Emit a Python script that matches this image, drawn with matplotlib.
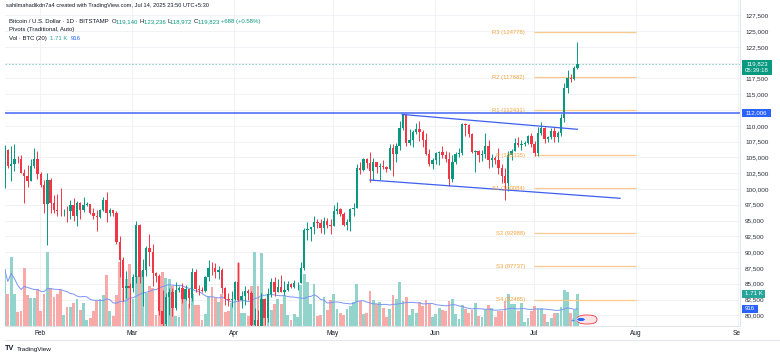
import matplotlib
matplotlib.use("Agg")
import matplotlib.pyplot as plt
import matplotlib.dates as mdates
from matplotlib.patches import Rectangle, FancyBboxPatch, Circle
from matplotlib.lines import Line2D
from matplotlib.transforms import Bbox, TransformedBbox
import pandas as pd

plt.rcParams["font.family"] = ["Liberation Sans", "DejaVu Sans"]

W, H = 780, 358  # output size in pixels

####################
#######DATA#########
####################
# BTC/USD daily candles (Bitstamp), 21 Jan - 14 Jul 2025
opens = [
    102000, 106150, 103650, 103950, 104800, 104700, 102600, 102050, 101300, 103700, 104750,  # Jan
    102400, 100650, 97700, 101400, 97800, 96600, 96550, 96500, 96500, 96450, 97400, 95800, 97850, 96600,
    97500, 97600, 96150, 95800, 95550, 96600, 98300, 96150, 96600, 96250, 91550, 88700, 84300, 84700,  # Feb
    84400, 86000, 94300, 86100, 87250, 90600, 89950, 86750, 86200, 80700, 78550, 82950, 83700, 81100,
    83950, 84350, 82600, 84100, 82700, 86900, 84200, 84050, 83850, 86100, 87500, 87450, 86900, 87200,
    84400, 82650, 82400,  # Mar
    82550, 85200, 82500, 83100, 83850, 83500, 78400, 79200, 76300, 82600, 79600, 83450, 85300, 83750,
    84550, 83650, 84050, 84950, 84450, 85050, 85150, 87500, 93450, 93700, 93950, 94700, 94650, 93800,
    94950, 94300,  # Apr
    94200, 96500, 96900, 96000, 94300, 94800, 96800, 97050, 103250, 102950, 104700, 104100, 102800,
    104200, 103500, 103700, 103500, 103150, 106450, 105600, 106800, 109650, 111650, 107300, 107800,
    109000, 109450, 108950, 107800, 105600, 103950,  # May
    104600, 105700, 105850, 105400, 104700, 101550, 104300, 105600, 105750, 110250, 110200, 108650,
    105900, 106050, 105450, 105550, 106800, 104550, 104850, 104600, 103300, 102100, 100950, 105450,
    106000, 107300, 106950, 107100, 107300, 108400,  # Jun
    107150, 105700, 108850, 109600, 107950, 108200, 109200, 108250, 108900, 111300, 115950, 117550,
    117450, 119140,  # Jul
]
highs = [
    107000, 106350, 106800, 107100, 105250, 105450, 103200, 103750, 104800, 106450, 106000,
    102750, 101450, 102500, 101750, 99000, 99200, 100150, 96900, 97300, 98300, 98500, 98100, 97950, 98800,
    97950, 97700, 97000, 96750, 96850, 98750, 99500, 96950, 96700, 96450, 92500, 89300, 87000, 85100,
    86550, 95000, 94400, 88900, 91000, 92800, 91250, 86900, 86500, 83950, 83600, 84350, 84300, 85200,
    84650, 85100, 84750, 84100, 87450, 87400, 84800, 84500, 86150, 88800, 88500, 88250, 87800, 87500,
    84550, 83500, 83900,
    85500, 88500, 83900, 84700, 84200, 83800, 81200, 80850, 83550, 82700, 84250, 85900, 86100, 85800,
    86450, 85450, 85450, 85100, 85650, 85300, 88500, 93850, 94700, 94000, 95750, 95300, 95250, 95600,
    95450, 95200,
    97450, 97900, 96950, 96300, 95200, 96950, 97750, 103900, 104350, 104950, 104950, 105800, 104950,
    104350, 104150, 104550, 103700, 107100, 107100, 107300, 110800, 111950, 111800, 109500, 109300,
    110400, 110700, 109300, 108900, 106300, 104900,
    105850, 105950, 106800, 105950, 105900, 105400, 105900, 106450, 110500, 110400, 110350, 108800,
    106200, 106200, 106100, 108900, 107750, 105550, 105200, 106500, 104000, 103400, 106050, 106300,
    108100, 108300, 107700, 107550, 108500, 108800,
    107550, 109750, 110550, 109750, 108400, 109700, 109750, 109200, 111950, 116800, 118850, 118150,
    119500, 123236,
]
lows = [
    100100, 103300, 101200, 102800, 104100, 102500, 97750, 100250, 101300, 103300, 101550,
    100300, 96200, 91200, 96150, 96200, 95700, 95650, 95700, 94700, 95300, 94900, 94100, 95300, 96300,
    97250, 96050, 95200, 93400, 95400, 96450, 94800, 95800, 95800, 91300, 86100, 82250, 82800, 78200,
    83750, 85050, 85100, 81400, 86300, 87800, 84700, 85300, 80000, 77550, 76600, 80000, 79950, 80800,
    83650, 82000, 82450, 81150, 82300, 83650, 83200, 83700, 83700, 85500, 86350, 85900, 85800, 83600,
    81650, 81550, 81300,
    82450, 82300, 81200, 81650, 82400, 77150, 74450, 76200, 74600, 78450, 78950, 82850, 83050, 83700,
    83650, 83150, 83800, 84300, 84250, 83950, 85150, 87100, 91950, 91700, 92850, 93900, 93050, 92850,
    93800, 92900,
    94100, 96050, 95800, 94150, 93500, 93400, 95800, 96950, 102400, 102850, 103400, 101100, 101450,
    102600, 101450, 103100, 102650, 103050, 102000, 104200, 106100, 109300, 106800, 106900, 106600,
    108650, 107600, 106700, 105350, 103700, 103100,
    103900, 103750, 104900, 104200, 100400, 101150, 103950, 105100, 105350, 108350, 108250, 105700,
    102700, 104300, 104500, 104950, 103400, 103550, 103900, 102350, 101000, 98200, 99650, 104650,
    105950, 106600, 106150, 106850, 107200, 106700,
    105300, 105200, 108600, 107300, 107500, 107900, 107500, 107450, 108350, 110600, 115250, 116950,
    117250, 118972,
]
closes = [
    106150, 103650, 103950, 104800, 104700, 102600, 102050, 101300, 103700, 104750, 102400,
    100650, 97700, 101400, 97800, 96600, 96550, 96500, 96500, 96450, 97400, 95800, 97850, 96600, 97500,
    97600, 96150, 95800, 95550, 96600, 98300, 96150, 96600, 96250, 91550, 88700, 84300, 84700, 84400,
    86000, 94300, 86100, 87250, 90600, 89950, 86750, 86200, 80700, 78550, 82950, 83700, 81100, 83950,
    84350, 82600, 84100, 82700, 86900, 84200, 84050, 83850, 86100, 87500, 87450, 86900, 87200, 84400,
    82650, 82400, 82550,
    85200, 82500, 83100, 83850, 83500, 78400, 79200, 76300, 82600, 79600, 83450, 85300, 83750, 84550,
    83650, 84050, 84950, 84450, 85050, 85150, 87500, 93450, 93700, 93950, 94700, 94650, 93800, 94950,
    94300, 94200,
    96500, 96900, 96000, 94300, 94800, 96800, 97050, 103250, 102950, 104700, 104100, 102800, 104200,
    103500, 103700, 103500, 103150, 106450, 105600, 106800, 109650, 111650, 107300, 107800, 109000,
    109450, 108950, 107800, 105600, 103950, 104600,
    105700, 105850, 105400, 104700, 101550, 104300, 105600, 105750, 110250, 110200, 108650, 105900,
    106050, 105450, 105550, 106800, 104550, 104850, 104600, 103300, 102100, 100950, 105450, 106000,
    107300, 106950, 107100, 107300, 108400, 107150,
    105700, 108850, 109600, 107950, 108200, 109200, 108250, 108900, 111300, 115950, 117550, 117450,
    119135, 119823,
]
# volume in thousand BTC
volumes_k = [
    3.04, 1.71, 3.68, 1.71, 0.75, 0.80, 3.10, 1.66, 1.50, 1.50, 1.98,
    0.80, 1.71, 3.95, 2.03, 1.55, 1.71, 1.92, 0.59, 1.01, 1.01, 1.23, 1.44, 0.85, 1.23,
    0.32, 0.43, 0.80, 1.39, 1.44, 1.66, 2.72, 0.80, 0.53, 1.66, 3.42, 1.98, 2.51, 3.31,
    1.44, 2.67, 3.04, 2.94, 1.76, 2.14, 2.03, 0.59, 2.67, 2.88, 2.56, 2.51, 2.14, 0.53,
    0.48, 1.44, 1.55, 1.17, 1.71, 1.12, 1.12, 0.32, 0.64, 1.60, 2.08, 1.50, 1.28, 1.71,
    0.75, 0.80, 1.23,
    2.30, 3.36, 0.69, 0.69, 0.53, 2.14, 3.95, 2.14, 3.90, 1.23, 0.91, 0.85, 1.17, 1.44,
    1.17, 1.60, 0.59, 0.32, 0.64, 0.48, 2.19, 2.78, 2.35, 1.17, 2.24, 0.53, 0.59, 1.55,
    0.85, 1.39,
    1.71, 0.91, 0.69, 0.59, 0.91, 1.07, 1.28, 2.24, 1.34, 0.64, 0.69, 1.87, 1.39, 1.17,
    1.28, 0.96, 0.48, 0.91, 1.66, 1.44, 2.35, 1.34, 1.55, 0.59, 0.91, 0.69, 1.28, 1.07,
    1.39, 1.17, 0.48,
    0.64, 0.96, 0.85, 0.80, 1.34, 1.44, 0.64, 0.37, 1.12, 0.91, 0.69, 0.85, 1.23, 0.53,
    0.48, 0.91, 1.12, 0.96, 0.48, 0.80, 0.80, 1.34, 1.71, 1.17, 1.17, 0.80, 1.23, 0.21,
    0.43, 0.80,
    1.07, 0.96, 0.96, 0.64, 0.21, 0.43, 0.69, 0.69, 1.04, 1.92, 1.82, 0.69, 0.85, 1.71,
]

pivot_names = ["R3", "R2", "R1", "P", "S1", "S2", "S3", "S4"]
pivot_levels = [124778, 117682, 112431, 105335, 100084, 92988, 87737, 82485]
pivot_start, pivot_end = "2025-07-01", "2025-08-01"

hline_level = 112006

upper_trend_dates = ["2025-05-22 00:00", "2025-07-14 05:00"]
upper_trend_prices = [111800, 109450]
lower_trend_dates = ["2025-05-12 05:00", "2025-07-27 04:00"]
lower_trend_prices = [101420, 98525]

month_ticks = ["2025-02-01", "2025-03-01", "2025-04-01", "2025-05-01",
               "2025-06-01", "2025-07-01", "2025-08-01", "2025-09-01"]
month_labels = ["Feb", "Mar", "Apr", "May", "Jun", "Jul", "Aug", "Sep"]

assert len(opens) == len(highs) == len(lows) == len(closes) == len(volumes_k)

####################
#######PLOT#########
####################
UP, DOWN = "#089981", "#f23645"
VUP, VDOWN = "#92d3cb", "#f8aaa8"
TXT = "#131722"

def dnum(s):
    return mdates.date2num(pd.to_datetime(s).to_pydatetime())

# daily bars open 00:00 UTC = 05:30 in the chart's timezone
dates = pd.date_range("2025-01-21 05:30", periods=len(closes), freq="D")
x = mdates.date2num(dates.to_pydatetime())
is_up = [c >= o for o, c in zip(opens, closes)]
vol_ma = pd.Series(volumes_k).rolling(20, min_periods=1).mean()

fig = plt.figure(figsize=(W / 100, H / 100), dpi=100)
rect = [5 / W, 32 / H, 735 / W, 326 / H]
ax = fig.add_axes(rect, zorder=3)
gax = fig.add_axes(rect, zorder=1, sharex=ax, sharey=ax)
vax = fig.add_axes(rect, zorder=2, sharex=ax)
ax.patch.set_visible(False)
vax.patch.set_visible(False)

ax.set_xlim(dnum("2025-01-21") + 0.37, dnum("2025-09-01") + 0.6)
ax.set_ylim(78306, 129921)
vax.set_ylim(0, 17.41)

# grid layer
gax.grid(True, color="#eef0f4", lw=0.6)
gax.tick_params(labelleft=False, labelbottom=False, length=0)
for s in gax.spines.values():
    s.set_visible(False)

# volume + MA
vax.bar(x, volumes_k, width=0.85, color=[VUP if u else VDOWN for u in is_up], lw=0)
vax.plot(x, vol_ma, color="#7a95f6", lw=0.7)
vax.axis("off")

# candles
cols = [UP if u else DOWN for u in is_up]
ax.vlines(x, lows, highs, colors=cols, lw=0.7, zorder=2)
ax.bar(x, [max(abs(c - o), 80) for o, c in zip(opens, closes)],
       bottom=[min(o, c) for o, c in zip(opens, closes)],
       width=0.72, color=cols, lw=0, zorder=2)

# pivots
for name, lvl in zip(pivot_names, pivot_levels):
    ax.hlines(lvl, dnum(pivot_start), dnum(pivot_end), color="#fbc98c", lw=0.9, zorder=1)
    ax.annotate(f"{name} ({lvl})", xy=(dnum(pivot_start), lvl), xytext=(-6.5, 0),
                textcoords="offset points", ha="right", va="center",
                fontsize=4.2, color="#f5a23c", zorder=4)

# drawings
ax.axhline(hline_level, color="#4f72f5", lw=1.4, alpha=0.85, zorder=3)
ax.axhline(closes[-1], color=UP, lw=0.6, ls=(0, (2, 2)), alpha=0.5, zorder=1)
ax.plot(dnum(upper_trend_dates), upper_trend_prices, color="#3d5ff0", lw=0.9, zorder=3)
ax.plot(dnum(lower_trend_dates), lower_trend_prices, color="#3d5ff0", lw=0.9, zorder=3)

# axes look
ax.yaxis.tick_right()
ax.set_yticks(range(80000, 127501, 2500))
ax.set_yticklabels([f"{v:,}" for v in range(80000, 127501, 2500)])
ax.tick_params(axis="y", length=0, pad=3.6, labelsize=4.6, labelcolor="#2a2e39")
ax.set_xticks([dnum(m) for m in month_ticks])
ax.set_xticklabels(month_labels)
ax.tick_params(axis="x", length=0, pad=2.6, labelsize=4.7, labelcolor=TXT)
for side in ("top", "left"):
    ax.spines[side].set_visible(False)
for side in ("right", "bottom"):
    ax.spines[side].set_color("#e0e3eb")
    ax.spines[side].set_linewidth(0.7)
sep = ax.get_xticklabels()[-1]
sep.set_clip_box(TransformedBbox(Bbox([[0, 0], [740 / W, 1]]), fig.transFigure))
sep.set_clip_on(True)

fig.add_artist(Line2D([5 / W, 1], [1 - 340 / H] * 2, transform=fig.transFigure,
                      color="#e0e3eb", lw=0.6))

# price-scale tags
def tag(y_disp, x0, x1, half_up, half_dn, color, texts):
    fig.add_artist(Rectangle((x0 / W, (y_disp - half_dn) / H), (x1 - x0) / W,
                             (half_up + half_dn) / H, transform=fig.transFigure,
                             fc=color, ec="none", zorder=10))
    for s, dy in texts:
        fig.text((x0 + x1) / 2 / W, (y_disp + dy) / H, s, ha="center", va="center",
                 color="white", fontsize=4.4, zorder=11)

y_last = ax.transData.transform((0, closes[-1]))[1]
tag(y_last, 742, 772, 3.8, 11.2, UP, [(f"{closes[-1]:,}", 0), ("05:39:18", -7.2)])
y_h = ax.transData.transform((0, hline_level))[1]
tag(y_h, 742, 771, 4, 4, "#2962ff", [(f"{hline_level:,}", 0)])
y_v = vax.transData.transform((0, volumes_k[-1]))[1]
tag(y_v, 742, 765, 3.7, 3.7, "#26a69a", [(f"{volumes_k[-1]:.2f} K", 0)])
y_m = vax.transData.transform((0, vol_ma.iloc[-1]))[1]
tag(y_m, 742, 758, 3.8, 3.8, "#2962ff", [(f"{vol_ma.iloc[-1] * 1000:.0f}", 0)])

# events marker near the last bar
fig.add_artist(FancyBboxPatch((577 / W, 1 - 324 / H), 20 / W, 9 / H,
                              boxstyle="round,pad=0,rounding_size=0.012",
                              transform=fig.transFigure, fc="#fde4e4", ec="#f23645",
                              lw=0.6, zorder=9))
fig.add_artist(Circle((581 / W, 1 - 319.5 / H), 0.0055, transform=fig.transFigure,
                      fc="#2962ff", ec="white", lw=0.5, zorder=9))
fig.text(573 / W, 1 - 322 / H, "+", color="#2962ff", fontsize=5, ha="center",
         va="center", zorder=9)

# header lines
renderer = fig.canvas.get_renderer()

def rich_line(x_px, y_px, parts, size=4.3):
    for s, c in parts:
        t = fig.text(x_px / W, 1 - y_px / H, s, color=c, fontsize=size,
                     ha="left", va="center", zorder=12)
        x_px += t.get_window_extent(renderer).width

chg = closes[-1] - closes[-2]
rich_line(6, 6, [("sahilmahadikdn7a4 created with TradingView.com, Jul 14, 2025 23:50 UTC+5:30", TXT)],
          size=4.05)
rich_line(9, 21.7, [("Bitcoin / U.S. Dollar · 1D · BITSTAMP  ", TXT),
                    ("O", TXT), (f"{opens[-1]:,} ", UP),
                    ("H", TXT), (f"{highs[-1]:,} ", UP),
                    ("L", TXT), (f"{lows[-1]:,} ", UP),
                    ("C", TXT), (f"{closes[-1]:,} ", UP),
                    (f"+{chg} (+{chg / closes[-2] * 100:.2f}%)", UP)])
rich_line(9, 30, [("Pivots (Traditional, Auto)", TXT)])
rich_line(9, 38.3, [("Vol · BTC (20)  ", TXT), (f"{volumes_k[-1]:.2f} K  ", "#26a69a"),
                    (f"{vol_ma.iloc[-1] * 1000:.0f}", "#2962ff")])

# footer logo
fig.text(5 / W, 1 - 349 / H, "TV", fontsize=5.2, fontweight="bold", color=TXT, va="center")
fig.text(17 / W, 1 - 349 / H, "TradingView", fontsize=4.6, color=TXT, va="center")

fig.savefig("out.png", dpi=100)
